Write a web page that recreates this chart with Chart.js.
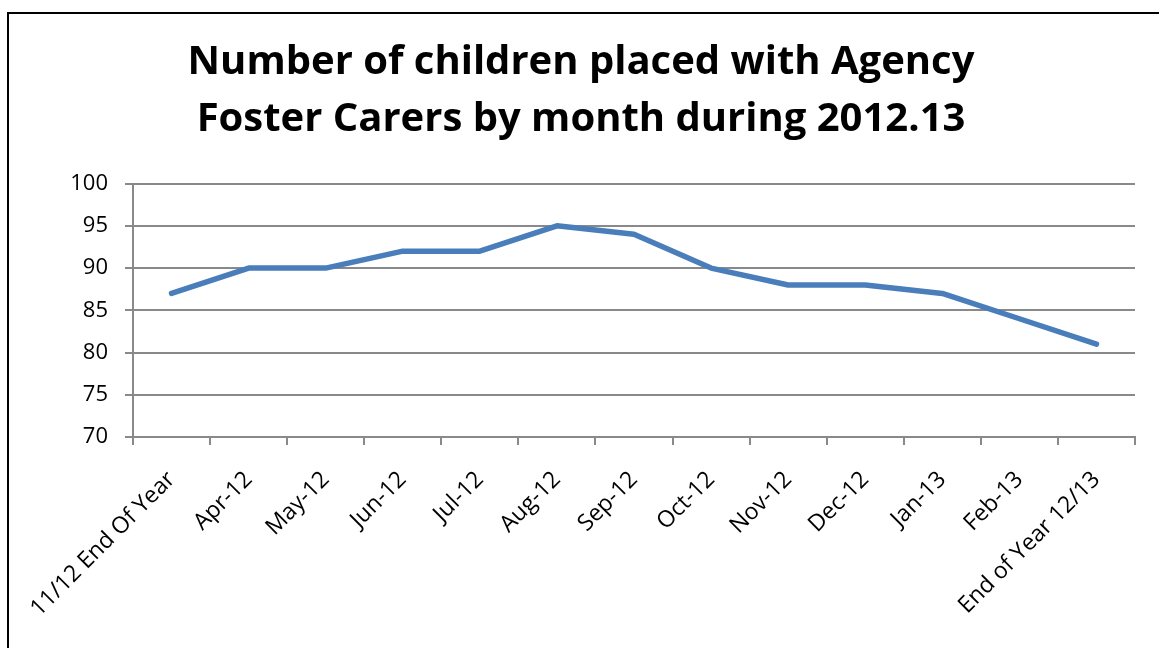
<!DOCTYPE html>
<html>
<head>
<meta charset="utf-8">
<script src="https://cdn.jsdelivr.net/npm/chart.js@4.4.0/dist/chart.umd.min.js"></script>
<style>
    html, body { margin: 0; padding: 0; background: #fff; overflow: hidden; }
    #frame {
        position: absolute; left: 7px; top: 12px;
        width: 1300px; height: 800px;
        border-left: 2px solid #000; border-top: 2px solid #000;
    }
    #wrap { position: absolute; left: 0; top: 0; width: 1159px; height: 648px; }
</style>
</head>
<body>
<div id="frame"></div>
<div id="wrap"><canvas id="fosterChart"></canvas></div>
<script>
// Chart data
const months = ['11/12 End Of Year', 'Apr-12', 'May-12', 'Jun-12', 'Jul-12', 'Aug-12', 'Sep-12',
    'Oct-12', 'Nov-12', 'Dec-12', 'Jan-13', 'Feb-13', 'End of Year 12/13'];
const childrenPlaced = [87, 90, 90, 92, 92, 95, 94, 90, 88, 88, 87, 84, 81];
const yMin = 70;
const yMax = 100;
const yStep = 5;

const gridGrey = '#898989';
const lineBlue = '#4a7ebb';
const fontFamily = '"Open Sans", "Noto Sans", sans-serif';

const ctx = document.getElementById('fosterChart').getContext('2d');

const fosterChart = new Chart(ctx, {
    type: 'line',
    data: {
        labels: months,
        datasets: [{
            data: childrenPlaced,
            borderColor: lineBlue,
            borderWidth: 5.5,
            pointRadius: 0,
            tension: 0,
            borderCapStyle: 'round',
            borderJoinStyle: 'round'
        }]
    },
    options: {
        responsive: true,
        maintainAspectRatio: false,
        animation: false,
        layout: {
            // left padding shifts the title centre to match the reference
            padding: { left: 27, right: 24, top: 0, bottom: 0 }
        },
        plugins: {
            legend: { display: false },
            tooltip: { enabled: false },
            title: {
                display: true,
                text: ['Number of children placed with Agency', 'Foster Carers by month during 2012.13'],
                color: '#000',
                font: { family: fontFamily, size: 40, weight: 'bold', lineHeight: 1.42 },
                padding: { top: 34, bottom: 36 }
            }
        },
        scales: {
            x: {
                offset: true,
                grid: {
                    display: true,
                    offset: true,
                    drawOnChartArea: false,
                    drawTicks: true,
                    tickLength: 8,
                    color: gridGrey,
                    lineWidth: 2
                },
                border: { display: true, color: gridGrey, width: 2 },
                ticks: {
                    color: '#000',
                    font: { family: fontFamily, size: 23 },
                    maxRotation: 45,
                    minRotation: 45,
                    autoSkip: false,
                    padding: 21
                },
                afterFit: function(scale) {
                    scale.height = 211;
                }
            },
            y: {
                min: yMin,
                max: yMax,
                ticks: {
                    stepSize: yStep,
                    color: '#000',
                    font: { family: fontFamily, size: 22 },
                    padding: 17
                },
                grid: {
                    color: gridGrey,
                    lineWidth: 2,
                    tickLength: 8
                },
                border: { display: true, color: gridGrey, width: 2 },
                afterFit: function(scale) {
                    scale.width = 106;
                }
            }
        }
    }
});
</script>
</body>
</html>
